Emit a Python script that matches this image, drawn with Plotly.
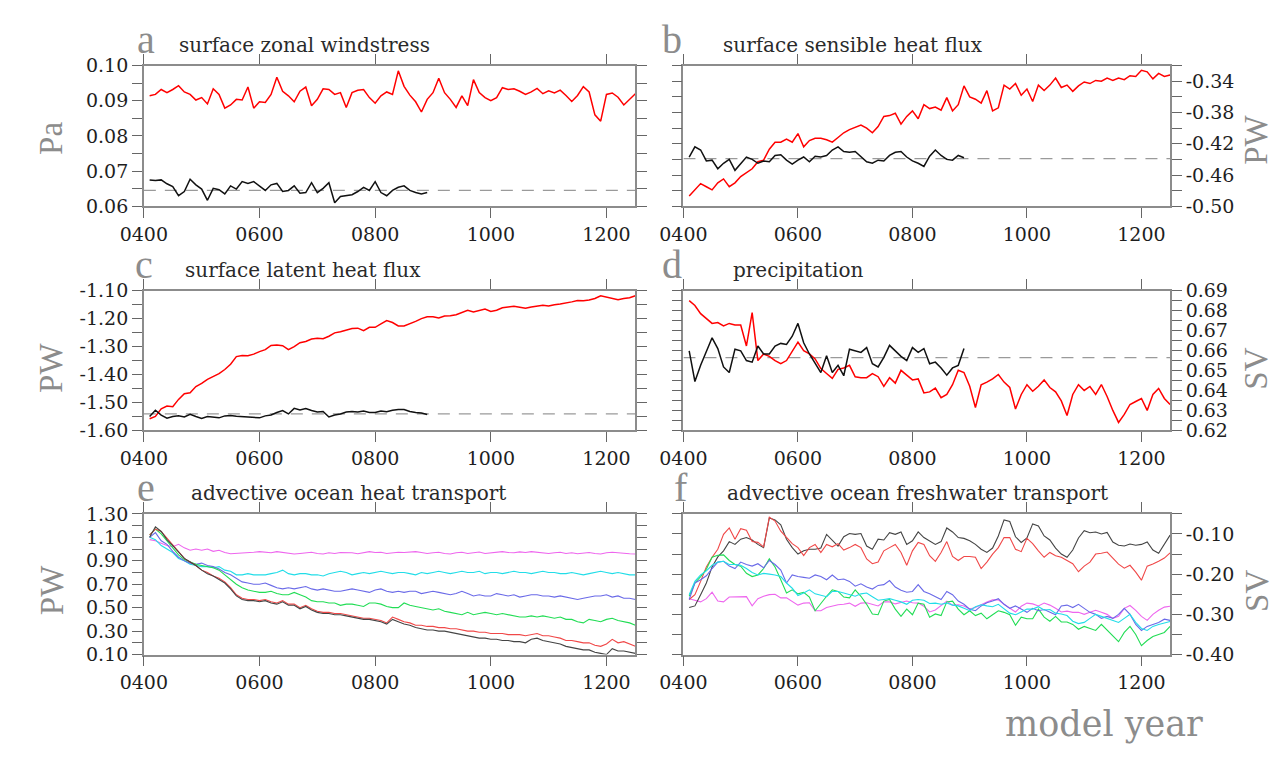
import plotly.graph_objects as go

# model years (10-year sampling)
years_run = list(range(410, 1251, 10))   # perturbed run, 0410-1250
years_ctl = list(range(410, 891, 10))    # control run, 0410-0890

# a  surface zonal windstress (Pa)
a_red = [0.0914, 0.0918, 0.0932, 0.0923, 0.0932, 0.0943, 0.0925, 0.0918, 0.0902, 0.0909,
         0.0891, 0.0934, 0.0918, 0.0879, 0.0888, 0.0904, 0.0902, 0.0939, 0.0879, 0.0897,
         0.0895, 0.0918, 0.0967, 0.0927, 0.0914, 0.0897, 0.0927, 0.0939, 0.0886, 0.0904,
         0.0934, 0.0932, 0.0918, 0.0923, 0.0881, 0.0923, 0.0930, 0.0932, 0.0909, 0.0893,
         0.0914, 0.0925, 0.0918, 0.0985, 0.0941, 0.0916, 0.0897, 0.0868, 0.0904, 0.0923,
         0.0964, 0.0923, 0.0904, 0.0881, 0.0914, 0.0886, 0.0960, 0.0923, 0.0909, 0.0900,
         0.0909, 0.0937, 0.0932, 0.0934, 0.0927, 0.0918, 0.0925, 0.0935, 0.0920, 0.0928,
         0.0922, 0.0930, 0.0915, 0.0898, 0.0915, 0.0940, 0.0925, 0.0860, 0.0842, 0.0918,
         0.0922, 0.0910, 0.0888, 0.0905, 0.0920]
a_black = [0.0675, 0.0673, 0.0675, 0.0664, 0.0656, 0.0630, 0.0642, 0.0677, 0.0661, 0.0649,
           0.0617, 0.0651, 0.0647, 0.0635, 0.0658, 0.0649, 0.0670, 0.0665, 0.0670, 0.0658,
           0.0645, 0.0661, 0.0665, 0.0642, 0.0645, 0.0658, 0.0637, 0.0639, 0.0667, 0.0639,
           0.0651, 0.0667, 0.0610, 0.0628, 0.0630, 0.0633, 0.0642, 0.0654, 0.0645, 0.0670,
           0.0639, 0.0630, 0.0645, 0.0654, 0.0658, 0.0645, 0.0639, 0.0635, 0.0639]
a_ref = 0.0645

# b  surface sensible heat flux (PW)
b_red = [-0.487, -0.479, -0.471, -0.475, -0.479, -0.470, -0.465, -0.475, -0.470, -0.462,
         -0.457, -0.452, -0.443, -0.441, -0.427, -0.418, -0.418, -0.414, -0.418, -0.407,
         -0.424, -0.416, -0.413, -0.413, -0.415, -0.418, -0.412, -0.406, -0.402, -0.399,
         -0.396, -0.400, -0.406, -0.398, -0.385, -0.384, -0.381, -0.395, -0.385, -0.378,
         -0.388, -0.370, -0.375, -0.373, -0.377, -0.361, -0.378, -0.370, -0.346, -0.360,
         -0.363, -0.368, -0.352, -0.378, -0.374, -0.345, -0.350, -0.343, -0.358, -0.350,
         -0.366, -0.345, -0.352, -0.345, -0.336, -0.348, -0.345, -0.353, -0.346, -0.341,
         -0.343, -0.339, -0.340, -0.336, -0.339, -0.336, -0.338, -0.333, -0.334, -0.326,
         -0.328, -0.337, -0.330, -0.334, -0.332]
b_black = [-0.437, -0.424, -0.428, -0.442, -0.441, -0.452, -0.445, -0.440, -0.454, -0.445,
           -0.437, -0.440, -0.445, -0.442, -0.443, -0.435, -0.434, -0.441, -0.446, -0.441,
           -0.437, -0.443, -0.436, -0.437, -0.435, -0.428, -0.424, -0.430, -0.431, -0.430,
           -0.436, -0.443, -0.445, -0.441, -0.442, -0.435, -0.431, -0.430, -0.437, -0.442,
           -0.445, -0.449, -0.436, -0.428, -0.435, -0.440, -0.441, -0.435, -0.438]
b_ref = -0.439

# c  surface latent heat flux (PW)
c_red = [-1.558, -1.550, -1.523, -1.513, -1.515, -1.489, -1.469, -1.465, -1.443, -1.432,
         -1.417, -1.407, -1.397, -1.382, -1.363, -1.336, -1.332, -1.333, -1.327, -1.318,
         -1.311, -1.296, -1.294, -1.297, -1.311, -1.300, -1.286, -1.282, -1.273, -1.270,
         -1.272, -1.263, -1.251, -1.247, -1.242, -1.235, -1.234, -1.243, -1.231, -1.231,
         -1.219, -1.207, -1.214, -1.226, -1.226, -1.219, -1.210, -1.200, -1.193, -1.193,
         -1.198, -1.191, -1.190, -1.186, -1.177, -1.170, -1.176, -1.170, -1.166, -1.174,
         -1.170, -1.161, -1.159, -1.156, -1.159, -1.163, -1.158, -1.155, -1.152, -1.155,
         -1.150, -1.148, -1.145, -1.140, -1.135, -1.136, -1.133, -1.128, -1.118, -1.122,
         -1.128, -1.132, -1.128, -1.125, -1.118]
c_black = [-1.550, -1.528, -1.545, -1.556, -1.550, -1.548, -1.552, -1.542, -1.550, -1.557,
           -1.550, -1.552, -1.555, -1.548, -1.547, -1.549, -1.551, -1.552, -1.553, -1.555,
           -1.548, -1.545, -1.536, -1.529, -1.541, -1.521, -1.527, -1.522, -1.529, -1.534,
           -1.532, -1.552, -1.545, -1.541, -1.534, -1.532, -1.534, -1.531, -1.536, -1.536,
           -1.531, -1.533, -1.528, -1.525, -1.525, -1.532, -1.536, -1.538, -1.543]
c_ref = -1.541

# d  precipitation (Sv)
d_red = [0.6850, 0.6826, 0.6785, 0.6761, 0.6736, 0.6740, 0.6723, 0.6736, 0.6728, 0.6728,
         0.6623, 0.6790, 0.6550, 0.6583, 0.6571, 0.6550, 0.6534, 0.6550, 0.6599, 0.6642,
         0.6599, 0.6583, 0.6558, 0.6510, 0.6485, 0.6461, 0.6506, 0.6513, 0.6526, 0.6469,
         0.6464, 0.6464, 0.6485, 0.6469, 0.6421, 0.6464, 0.6437, 0.6501, 0.6477, 0.6453,
         0.6458, 0.6388, 0.6393, 0.6412, 0.6364, 0.6380, 0.6429, 0.6501, 0.6490, 0.6421,
         0.6315, 0.6429, 0.6442, 0.6458, 0.6480, 0.6442, 0.6415, 0.6307, 0.6380, 0.6429,
         0.6396, 0.6421, 0.6453, 0.6415, 0.6393, 0.6348, 0.6275, 0.6380, 0.6429, 0.6400,
         0.6420, 0.6380, 0.6430, 0.6370, 0.6300, 0.6240, 0.6280, 0.6330, 0.6345, 0.6360,
         0.6300, 0.6380, 0.6410, 0.6360, 0.6330]
d_black = [0.6599, 0.6445, 0.6526, 0.6594, 0.6664, 0.6610, 0.6518, 0.6490, 0.6607, 0.6599,
           0.6550, 0.6542, 0.6623, 0.6583, 0.6583, 0.6623, 0.6636, 0.6631, 0.6672, 0.6736,
           0.6639, 0.6583, 0.6539, 0.6490, 0.6574, 0.6490, 0.6526, 0.6474, 0.6607, 0.6599,
           0.6591, 0.6615, 0.6534, 0.6518, 0.6566, 0.6626, 0.6599, 0.6571, 0.6550, 0.6615,
           0.6591, 0.6610, 0.6534, 0.6542, 0.6513, 0.6477, 0.6513, 0.6526, 0.6610]
d_ref = 0.6565

# e  advective ocean heat transport (PW)
e_magenta = [1.08, 1.07, 1.05, 1.03, 1.02, 1.04, 1.01, 0.99, 1.00, 0.99,
             1.00, 0.98, 0.99, 0.97, 0.96, 0.962, 0.97, 0.968, 0.972, 0.978,
             0.97, 0.968, 0.978, 0.97, 0.962, 0.958, 0.962, 0.968, 0.972, 0.962,
             0.958, 0.968, 0.962, 0.97, 0.972, 0.968, 0.96, 0.97, 0.978, 0.97,
             0.972, 0.962, 0.968, 0.972, 0.97, 0.974, 0.978, 0.97, 0.962, 0.968,
             0.972, 0.962, 0.958, 0.968, 0.972, 0.962, 0.97, 0.974, 0.962, 0.968,
             0.972, 0.978, 0.97, 0.968, 0.976, 0.97, 0.978, 0.972, 0.968, 0.962,
             0.968, 0.972, 0.962, 0.968, 0.96, 0.966, 0.97, 0.962, 0.958, 0.968,
             0.972, 0.968, 0.962, 0.96, 0.958]
e_cyan = [1.10, 1.08, 1.03, 1.00, 0.97, 0.92, 0.90, 0.87, 0.86, 0.85,
          0.85, 0.84, 0.85, 0.82, 0.81, 0.78, 0.78, 0.79, 0.78, 0.78,
          0.78, 0.79, 0.80, 0.82, 0.79, 0.78, 0.79, 0.79, 0.78, 0.78,
          0.77, 0.79, 0.80, 0.81, 0.80, 0.78, 0.79, 0.80, 0.79, 0.80,
          0.81, 0.80, 0.79, 0.80, 0.80, 0.79, 0.78, 0.80, 0.79, 0.80,
          0.81, 0.80, 0.79, 0.80, 0.81, 0.80, 0.80, 0.81, 0.79, 0.80,
          0.80, 0.79, 0.80, 0.81, 0.80, 0.80, 0.79, 0.80, 0.81, 0.80,
          0.80, 0.79, 0.79, 0.80, 0.79, 0.78, 0.79, 0.80, 0.81, 0.80,
          0.79, 0.80, 0.79, 0.78, 0.78]
e_blue = [1.10, 1.14, 1.07, 1.04, 0.98, 0.93, 0.90, 0.88, 0.87, 0.88,
          0.86, 0.85, 0.83, 0.80, 0.78, 0.75, 0.72, 0.71, 0.70, 0.70,
          0.71, 0.69, 0.67, 0.66, 0.67, 0.66, 0.67, 0.68, 0.66, 0.65,
          0.66, 0.65, 0.64, 0.64, 0.65, 0.66, 0.65, 0.64, 0.63, 0.65,
          0.66, 0.64, 0.63, 0.64, 0.63, 0.64, 0.64, 0.62, 0.63, 0.64,
          0.63, 0.62, 0.61, 0.62, 0.64, 0.62, 0.60, 0.61, 0.60, 0.60,
          0.62, 0.61, 0.60, 0.61, 0.59, 0.60, 0.61, 0.61, 0.60, 0.60,
          0.59, 0.60, 0.59, 0.58, 0.57, 0.58, 0.59, 0.60, 0.60, 0.61,
          0.59, 0.60, 0.58, 0.58, 0.57]
e_green = [1.12, 1.17, 1.13, 1.07, 1.01, 0.95, 0.91, 0.89, 0.87, 0.86,
           0.85, 0.84, 0.82, 0.78, 0.74, 0.70, 0.67, 0.65, 0.64, 0.63,
           0.63, 0.64, 0.62, 0.61, 0.61, 0.63, 0.61, 0.59, 0.56, 0.55,
           0.55, 0.54, 0.54, 0.52, 0.53, 0.53, 0.52, 0.51, 0.54, 0.54,
           0.53, 0.51, 0.50, 0.50, 0.54, 0.52, 0.51, 0.50, 0.49, 0.48,
           0.49, 0.47, 0.46, 0.45, 0.44, 0.46, 0.44, 0.45, 0.46, 0.45,
           0.44, 0.45, 0.44, 0.43, 0.42, 0.42, 0.43, 0.42, 0.43, 0.42,
           0.41, 0.42, 0.40, 0.40, 0.38, 0.37, 0.40, 0.39, 0.38, 0.40,
           0.41, 0.39, 0.38, 0.37, 0.35]
e_red = [1.12, 1.17, 1.15, 1.09, 1.04, 0.98, 0.92, 0.89, 0.86, 0.82,
         0.80, 0.77, 0.75, 0.72, 0.67, 0.61, 0.58, 0.57, 0.57, 0.56,
         0.57, 0.55, 0.54, 0.56, 0.53, 0.53, 0.50, 0.52, 0.49, 0.47,
         0.46, 0.46, 0.45, 0.45, 0.44, 0.43, 0.42, 0.41, 0.41, 0.40,
         0.39, 0.37, 0.42, 0.40, 0.38, 0.37, 0.35, 0.35, 0.34, 0.34,
         0.33, 0.33, 0.32, 0.32, 0.31, 0.30, 0.30, 0.29, 0.29, 0.28,
         0.28, 0.28, 0.27, 0.27, 0.27, 0.26, 0.27, 0.28, 0.26, 0.26,
         0.25, 0.24, 0.22, 0.22, 0.21, 0.20, 0.20, 0.18, 0.17, 0.19,
         0.23, 0.20, 0.21, 0.19, 0.17]
e_black = [1.10, 1.19, 1.15, 1.08, 1.03, 0.97, 0.92, 0.89, 0.86, 0.82,
           0.79, 0.77, 0.74, 0.71, 0.66, 0.60, 0.57, 0.56, 0.56, 0.55,
           0.56, 0.54, 0.53, 0.55, 0.52, 0.52, 0.49, 0.51, 0.48, 0.46,
           0.45, 0.45, 0.44, 0.44, 0.43, 0.42, 0.41, 0.40, 0.40, 0.39,
           0.38, 0.36, 0.40, 0.38, 0.36, 0.35, 0.33, 0.32, 0.31, 0.31,
           0.30, 0.30, 0.29, 0.28, 0.27, 0.26, 0.25, 0.24, 0.24, 0.23,
           0.23, 0.22, 0.22, 0.21, 0.21, 0.20, 0.23, 0.24, 0.22, 0.21,
           0.20, 0.19, 0.17, 0.16, 0.15, 0.14, 0.14, 0.12, 0.11, 0.10,
           0.15, 0.13, 0.13, 0.12, 0.11]

# f  advective ocean freshwater transport (Sv)
f_black = [-0.283, -0.279, -0.251, -0.222, -0.182, -0.157, -0.142, -0.119, -0.126, -0.113,
           -0.109, -0.115, -0.126, -0.134, -0.060, -0.065, -0.077, -0.113, -0.134, -0.150,
           -0.142, -0.138, -0.138, -0.135, -0.101, -0.115, -0.130, -0.107, -0.099, -0.101,
           -0.099, -0.130, -0.138, -0.113, -0.115, -0.097, -0.101, -0.095, -0.126, -0.117,
           -0.095, -0.109, -0.117, -0.126, -0.119, -0.085, -0.095, -0.109, -0.111, -0.117,
           -0.126, -0.138, -0.146, -0.135, -0.105, -0.065, -0.069, -0.107, -0.121, -0.110,
           -0.075, -0.080, -0.105, -0.115, -0.135, -0.150, -0.158, -0.140, -0.110, -0.092,
           -0.097, -0.095, -0.100, -0.096, -0.120, -0.128, -0.130, -0.125, -0.128, -0.126,
           -0.120, -0.140, -0.148, -0.125, -0.103]
f_red = [-0.263, -0.251, -0.218, -0.182, -0.158, -0.138, -0.101, -0.085, -0.113, -0.087,
         -0.091, -0.119, -0.121, -0.132, -0.058, -0.068, -0.093, -0.109, -0.124, -0.134,
         -0.154, -0.134, -0.126, -0.146, -0.126, -0.132, -0.124, -0.140, -0.134, -0.126,
         -0.134, -0.162, -0.174, -0.170, -0.142, -0.134, -0.126, -0.146, -0.178, -0.142,
         -0.121, -0.126, -0.154, -0.168, -0.146, -0.119, -0.156, -0.166, -0.156, -0.156,
         -0.158, -0.186, -0.170, -0.150, -0.134, -0.109, -0.109, -0.138, -0.144, -0.111,
         -0.124, -0.142, -0.158, -0.146, -0.154, -0.158, -0.166, -0.174, -0.194, -0.180,
         -0.170, -0.150, -0.148, -0.145, -0.160, -0.175, -0.185, -0.178, -0.195, -0.215,
         -0.180, -0.175, -0.168, -0.160, -0.147]
f_blue = [-0.263, -0.222, -0.214, -0.204, -0.186, -0.170, -0.168, -0.180, -0.186, -0.170,
          -0.176, -0.180, -0.174, -0.184, -0.166, -0.176, -0.190, -0.222, -0.202, -0.206,
          -0.208, -0.210, -0.202, -0.206, -0.214, -0.202, -0.214, -0.212, -0.218, -0.230,
          -0.224, -0.232, -0.237, -0.228, -0.226, -0.216, -0.232, -0.240, -0.245, -0.243,
          -0.226, -0.243, -0.249, -0.257, -0.263, -0.243, -0.251, -0.267, -0.275, -0.287,
          -0.291, -0.279, -0.271, -0.267, -0.261, -0.275, -0.285, -0.279, -0.287, -0.295,
          -0.285, -0.291, -0.288, -0.295, -0.301, -0.279, -0.277, -0.283, -0.275, -0.285,
          -0.295, -0.300, -0.310, -0.305, -0.310, -0.300, -0.285, -0.300, -0.325, -0.340,
          -0.330, -0.325, -0.320, -0.312, -0.315]
f_green = [-0.255, -0.222, -0.206, -0.188, -0.158, -0.153, -0.152, -0.166, -0.176, -0.180,
           -0.198, -0.206, -0.202, -0.186, -0.162, -0.182, -0.214, -0.247, -0.239, -0.249,
           -0.245, -0.257, -0.291, -0.272, -0.255, -0.239, -0.243, -0.257, -0.259, -0.239,
           -0.255, -0.275, -0.299, -0.301, -0.267, -0.263, -0.287, -0.305, -0.287, -0.301,
           -0.272, -0.275, -0.307, -0.299, -0.303, -0.269, -0.267, -0.287, -0.301, -0.291,
           -0.303, -0.297, -0.311, -0.301, -0.291, -0.295, -0.301, -0.327, -0.307, -0.311,
           -0.311, -0.287, -0.307, -0.317, -0.305, -0.319, -0.319, -0.325, -0.337, -0.330,
           -0.335, -0.340, -0.325, -0.340, -0.355, -0.368, -0.345, -0.330, -0.350, -0.378,
           -0.365, -0.355, -0.350, -0.345, -0.330]
f_cyan = [-0.251, -0.218, -0.202, -0.192, -0.178, -0.170, -0.168, -0.176, -0.176, -0.178,
          -0.186, -0.196, -0.202, -0.198, -0.200, -0.202, -0.206, -0.222, -0.235, -0.253,
          -0.247, -0.239, -0.249, -0.253, -0.256, -0.243, -0.243, -0.247, -0.251, -0.255,
          -0.249, -0.247, -0.256, -0.265, -0.263, -0.261, -0.265, -0.269, -0.275, -0.265,
          -0.263, -0.265, -0.273, -0.272, -0.275, -0.272, -0.277, -0.279, -0.285, -0.291,
          -0.281, -0.276, -0.279, -0.281, -0.275, -0.287, -0.297, -0.301, -0.293, -0.287,
          -0.287, -0.281, -0.289, -0.288, -0.297, -0.299, -0.303, -0.317, -0.323, -0.320,
          -0.310, -0.300, -0.305, -0.310, -0.315, -0.320, -0.310, -0.300, -0.320, -0.335,
          -0.340, -0.330, -0.325, -0.322, -0.318]
f_magenta = [-0.261, -0.265, -0.269, -0.261, -0.245, -0.267, -0.269, -0.257, -0.257, -0.256,
             -0.256, -0.279, -0.261, -0.255, -0.251, -0.250, -0.259, -0.259, -0.269, -0.277,
             -0.272, -0.271, -0.291, -0.291, -0.283, -0.279, -0.276, -0.275, -0.272, -0.280,
             -0.272, -0.271, -0.275, -0.279, -0.269, -0.269, -0.274, -0.271, -0.267, -0.271,
             -0.272, -0.280, -0.294, -0.289, -0.279, -0.267, -0.277, -0.276, -0.279, -0.287,
             -0.283, -0.275, -0.269, -0.264, -0.264, -0.275, -0.285, -0.294, -0.280, -0.272,
             -0.274, -0.279, -0.272, -0.277, -0.285, -0.294, -0.292, -0.295, -0.295, -0.300,
             -0.295, -0.290, -0.295, -0.300, -0.310, -0.305, -0.285, -0.278, -0.290, -0.305,
             -0.315, -0.300, -0.290, -0.282, -0.280]

x_ticks = [400, 600, 800, 1000, 1200]
x_labels = ["0400", "0600", "0800", "1000", "1200"]

# the page body keeps its default 8px margin, so the figure is shrunk and
# every position below is given in window pixels and shifted by that margin
PAGE = 8
W, H = 1278 - PAGE, 757 - 2 * PAGE
SERIF = "DejaVu Serif"
GREY = "#8c8c8c"


def px_x(x):
    return (x - PAGE) / W


def px_y(y):
    return 1 - (y - PAGE) / H


# plot frames in window pixels: (left, right) and (top, bottom)
LEFT = (122, 623)
RIGHT = (672, 1168)
ROWS = [(56, 201), (288, 432), (518, 663)]


def yticks(lo, hi, step, labelled):
    vals, text = [], []
    n = int(round((hi - lo) / step))
    for i in range(n + 1):
        v = round(lo + i * step, 4)
        vals.append(v)
        text.append("{:.2f}".format(v) if any(abs(v - l) < 1e-6 for l in labelled) else "")
    return vals, text


fig = go.Figure()

panels = [
    # column, row, y range, tick step, labelled ticks
    (LEFT, 0, (0.06, 0.10), 0.005, [0.06, 0.07, 0.08, 0.09, 0.10]),
    (RIGHT, 0, (-0.50, -0.32), 0.02, [-0.50, -0.46, -0.42, -0.38, -0.34]),
    (LEFT, 1, (-1.60, -1.10), 0.05, [-1.6, -1.5, -1.4, -1.3, -1.2, -1.1]),
    (RIGHT, 1, (0.62, 0.69), 0.005, [0.62, 0.63, 0.64, 0.65, 0.66, 0.67, 0.68, 0.69]),
    (LEFT, 2, (0.10, 1.30), 0.1, [0.1, 0.3, 0.5, 0.7, 0.9, 1.1, 1.3]),
    (RIGHT, 2, (-0.40, -0.05), 0.05, [-0.4, -0.3, -0.2, -0.1]),
]

axis_style = dict(showline=True, linecolor=GREY, linewidth=1.5, mirror="allticks",
                  ticks="outside", ticklen=10, tickcolor="#666", tickwidth=1.3,
                  showgrid=False, zeroline=False,
                  tickfont=dict(family=SERIF, size=19, color="#1e1e1e"))

for i, (col, row, yr, step, labelled) in enumerate(panels):
    n = "" if i == 0 else str(i + 1)
    top, bot = ROWS[row]
    vals, text = yticks(yr[0], yr[1], step, labelled)
    fig.layout["xaxis" + n] = dict(axis_style, domain=[px_x(col[0]), px_x(col[1])],
                                   range=[400, 1250], anchor="y" + n,
                                   tickvals=x_ticks, ticktext=x_labels)
    fig.layout["yaxis" + n] = dict(axis_style, domain=[px_y(bot), px_y(top)],
                                   range=list(yr), anchor="x" + n,
                                   side="right" if col is RIGHT else "left",
                                   tickvals=vals, ticktext=text)


def line(x, y, color, n, width=1.1, dash=None):
    fig.add_trace(go.Scatter(x=x, y=y, mode="lines", xaxis="x" + n, yaxis="y" + n,
                             line=dict(color=color, width=width, dash=dash),
                             showlegend=False, hoverinfo="skip"))


DASH = "12px,9px"
for n, red, black, ref in [("", a_red, a_black, a_ref), ("2", b_red, b_black, b_ref),
                           ("3", c_red, c_black, c_ref), ("4", d_red, d_black, d_ref)]:
    line([400, 1250], [ref, ref], "#9a9a9a", n, width=1.3, dash=DASH)
    line(years_run, red, "#ff0000", n, width=1.5)
    line(years_ctl, black, "#111111", n, width=1.5)

e_series = [(e_magenta, "#ee66ee"), (e_cyan, "#22dde8"), (e_blue, "#6a6ae8"),
            (e_green, "#22dd55"), (e_red, "#f04848"), (e_black, "#444444")]
for vals, color in e_series:
    line(years_run, vals, color, "5", width=1.1)

f_series = [(f_magenta, "#ee66ee"), (f_black, "#444444"), (f_red, "#f04848"),
            (f_green, "#22dd55"), (f_blue, "#6a6ae8"), (f_cyan, "#22dde8")]
for vals, color in f_series:
    line(years_run, vals, color, "6", width=1.1)

annotations = []


def text(t, x, y, size, color="#2a2a2a", family=SERIF, angle=0, xanchor="left"):
    annotations.append(dict(text=t, x=px_x(x), y=px_y(y), xref="paper", yref="paper",
                            showarrow=False, xanchor=xanchor, yanchor="middle",
                            textangle=angle, font=dict(family=family, size=size, color=color)))


titles = [("a", 113, 156, 35, "surface zonal windstress"),
          ("b", 648, 710, 35, "surface sensible heat flux"),
          ("c", 111, 162, 267, "surface latent heat flux"),
          ("d", 648, 720, 267, "precipitation"),
          ("e", 113, 168, 497, "advective ocean heat transport"),
          ("f", 660, 714, 497, "advective ocean freshwater transport")]
for letter, lx, tx, ty, title in titles:
    text(letter, lx, ty - 6, 40, color=GREY, family="Liberation Serif")
    text(title, tx, ty, 20)

units = [("Pa", 28, 131), ("PW", 1256, 132), ("PW", 28, 368),
         ("SV", 1256, 368), ("PW", 28, 597), ("SV", 1256, 597)]
for u, ux, uy in units:
    text(u, ux, uy, 33, color=GREY, family="Liberation Serif", angle=-90, xanchor="center")

text("model year", 1101, 735, 35, color=GREY, xanchor="center")

fig.update_layout(width=W, height=H, margin=dict(l=0, r=0, t=0, b=0),
                  paper_bgcolor="white", plot_bgcolor="white",
                  annotations=annotations)

fig.write_html("out.html")
